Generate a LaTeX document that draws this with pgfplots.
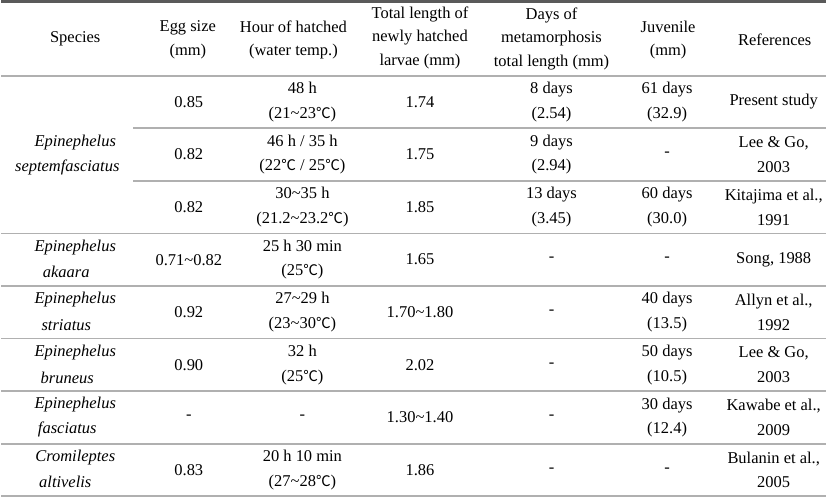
\documentclass[border=0pt]{standalone}
\usepackage{pgfplots}
\pgfplotsset{compat=1.18}
\usepackage{fontspec}
\setmainfont{Liberation Serif}
\newfontfamily\cjk{Noto Sans CJK SC}
\newcommand{\tl}{\textasciitilde}
\newcommand{\dc}{{\cjk\fontsize{11}{11}\selectfont\char"2103}}
\definecolor{topc}{HTML}{5A5A5A}
\definecolor{rulec}{HTML}{B0B0B0}
\begin{document}
\begin{tikzpicture}
\begin{axis}[scale only axis, width=620.25pt, height=374.25pt,
  xmin=0, xmax=827, ymin=0, ymax=499, y dir=reverse,
  hide axis, clip=false]
\addplot[draw=none] coordinates {(0,0) (827,499)};
% rules
\addplot[topc, line width=2.25pt] coordinates {(0,1.5) (827,1.5)};
\addplot[rulec, line width=1.5pt] coordinates {(0,76) (827,76)};
\addplot[rulec, line width=1.3pt] coordinates {(132,128.75) (827,128.75)};
\addplot[rulec, line width=1.3pt] coordinates {(132,181.5) (827,181.5)};
\addplot[rulec, line width=1.3pt] coordinates {(0,234.25) (827,234.25)};
\addplot[rulec, line width=1.3pt] coordinates {(0,287) (827,287)};
\addplot[rulec, line width=1.3pt] coordinates {(0,339.75) (827,339.75)};
\addplot[rulec, line width=1.3pt] coordinates {(0,392.5) (827,392.5)};
\addplot[rulec, line width=1.3pt] coordinates {(0,445.25) (827,445.25)};
\addplot[rulec, line width=1.5pt] coordinates {(0,497.5) (827,497.5)};
\tikzset{cell/.style={font=\fontsize{12.4}{18.5}\selectfont, align=center, inner sep=0pt},
  hd/.style={font=\fontsize{12.4}{17.5}\selectfont, align=center, inner sep=0pt},
  sp/.style={font=\fontsize{12.4}{18.5}\selectfont\itshape, inner sep=0pt}}
% header
\node[hd] at (axis cs:74,39) {Species};
\node[hd] at (axis cs:187,40) {Egg size\\(mm)};
\node[hd] at (axis cs:293,40) {Hour of hatched\\(water temp.)};
\node[hd] at (axis cs:420,38) {Total length of\\newly hatched\\larvae (mm)};
\node[hd] at (axis cs:552,39) {Days of\\metamorphosis\\total length (mm)};
\node[hd] at (axis cs:669,40) {Juvenile\\(mm)};
\node[hd] at (axis cs:776,40) {References};
% species
\node[sp] at (axis cs:74,143) {Epinephelus};
\node[sp] at (axis cs:66,168) {septemfasciatus};
\node[sp] at (axis cs:74,248) {Epinephelus};
\node[sp] at (axis cs:65,273) {akaara};
\node[sp] at (axis cs:74,301) {Epinephelus};
\node[sp] at (axis cs:65,326) {striatus};
\node[sp] at (axis cs:74,354) {Epinephelus};
\node[sp] at (axis cs:66,379) {bruneus};
\node[sp] at (axis cs:74,406) {Epinephelus};
\node[sp] at (axis cs:66,431) {fasciatus};
\node[sp] at (axis cs:74,459) {Cromileptes};
\node[sp] at (axis cs:64,484) {altivelis};
% row 1
\node[cell] at (axis cs:188,102.4) {0.85};
\node[cell] at (axis cs:302,102.4) {48 h\\(21\tl23\dc)};
\node[cell] at (axis cs:420,102.4) {1.74};
\node[cell] at (axis cs:552,102.4) {8 days\\(2.54)};
\node[cell] at (axis cs:668,102.4) {61 days\\(32.9)};
\node[cell] at (axis cs:775,102.4) {Present study};
% row 2
\node[cell] at (axis cs:188,155.1) {0.82};
\node[cell] at (axis cs:302,155.1) {46 h / 35 h\\(22\dc{} / 25\dc)};
\node[cell] at (axis cs:420,155.1) {1.75};
\node[cell] at (axis cs:552,155.1) {9 days\\(2.94)};
\node[cell] at (axis cs:668,155.1) {-};
\node[cell] at (axis cs:775,155.1) {Lee \& Go,\\2003};
% row 3
\node[cell] at (axis cs:188,207.9) {0.82};
\node[cell] at (axis cs:302,207.9) {30\tl35 h\\(21.2\tl23.2\dc)};
\node[cell] at (axis cs:420,207.9) {1.85};
\node[cell] at (axis cs:552,207.9) {13 days\\(3.45)};
\node[cell] at (axis cs:668,207.9) {60 days\\(30.0)};
\node[cell] at (axis cs:775,207.9) {Kitajima et al.,\\1991};
% row 4
\node[cell] at (axis cs:188,260.6) {0.71\tl0.82};
\node[cell] at (axis cs:302,260.6) {25 h 30 min\\(25\dc)};
\node[cell] at (axis cs:420,260.6) {1.65};
\node[cell] at (axis cs:552,260.6) {-};
\node[cell] at (axis cs:668,260.6) {-};
\node[cell] at (axis cs:775,260.6) {Song, 1988};
% row 5
\node[cell] at (axis cs:188,313.4) {0.92};
\node[cell] at (axis cs:302,313.4) {27\tl29 h\\(23\tl30\dc)};
\node[cell] at (axis cs:420,313.4) {1.70\tl1.80};
\node[cell] at (axis cs:552,313.4) {-};
\node[cell] at (axis cs:668,313.4) {40 days\\(13.5)};
\node[cell] at (axis cs:775,313.4) {Allyn et al.,\\1992};
% row 6
\node[cell] at (axis cs:188,366.1) {0.90};
\node[cell] at (axis cs:302,366.1) {32 h\\(25\dc)};
\node[cell] at (axis cs:420,366.1) {2.02};
\node[cell] at (axis cs:552,366.1) {-};
\node[cell] at (axis cs:668,366.1) {50 days\\(10.5)};
\node[cell] at (axis cs:775,366.1) {Lee \& Go,\\2003};
% row 7
\node[cell] at (axis cs:188,418.9) {-};
\node[cell] at (axis cs:302,418.9) {-};
\node[cell] at (axis cs:420,418.9) {1.30\tl1.40};
\node[cell] at (axis cs:552,418.9) {-};
\node[cell] at (axis cs:668,418.9) {30 days\\(12.4)};
\node[cell] at (axis cs:775,418.9) {Kawabe et al.,\\2009};
% row 8
\node[cell] at (axis cs:188,471.6) {0.83};
\node[cell] at (axis cs:302,471.6) {20 h 10 min\\(27\tl28\dc)};
\node[cell] at (axis cs:420,471.6) {1.86};
\node[cell] at (axis cs:552,471.6) {-};
\node[cell] at (axis cs:668,471.6) {-};
\node[cell] at (axis cs:775,471.6) {Bulanin et al.,\\2005};
\end{axis}
\end{tikzpicture}
\end{document}
